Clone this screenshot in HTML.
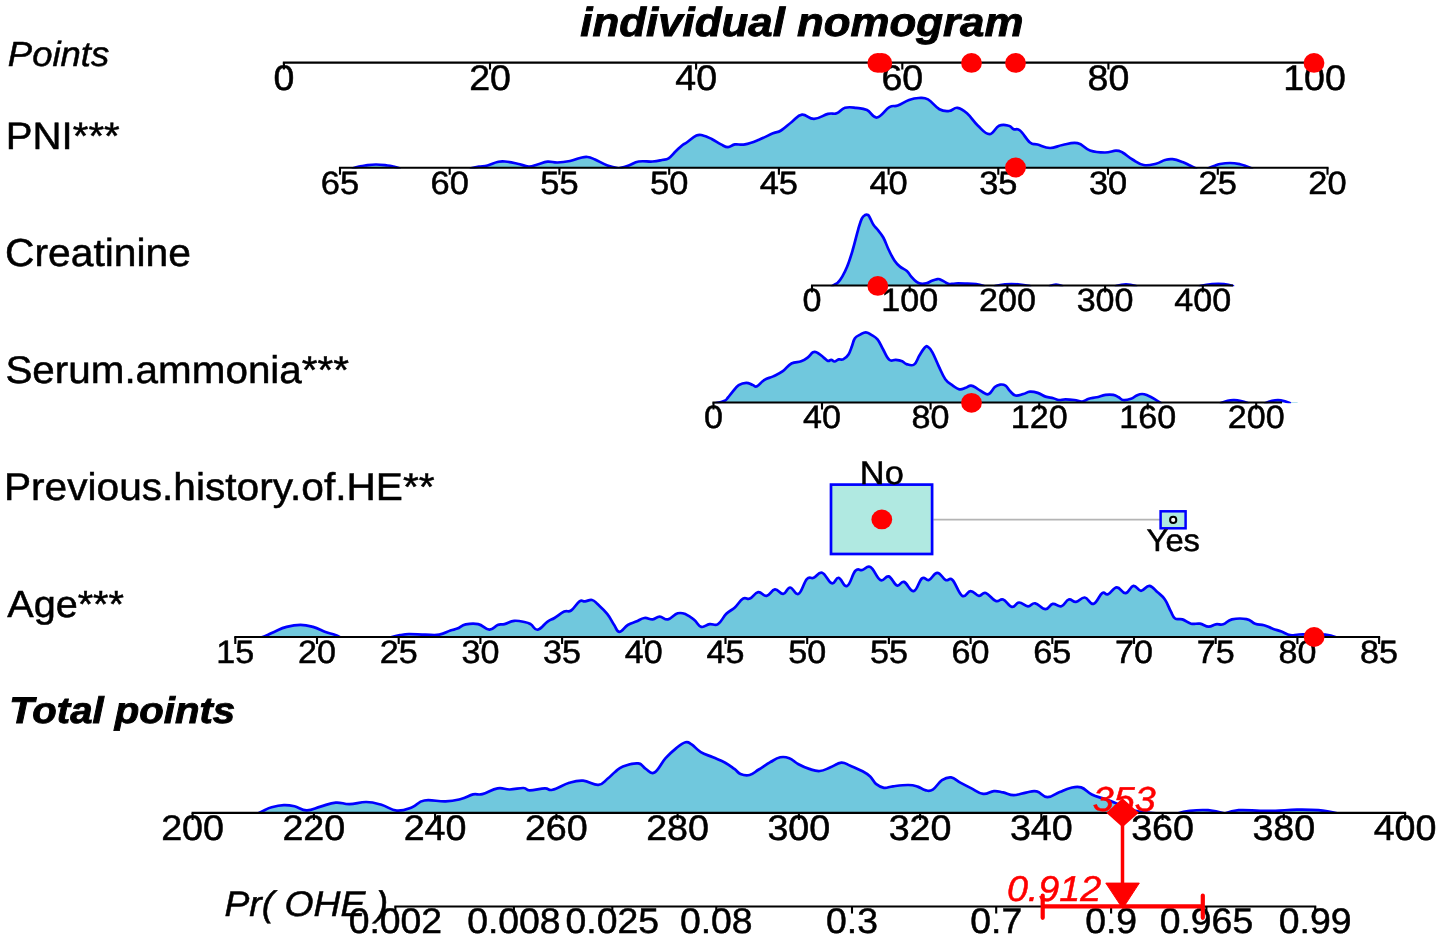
<!DOCTYPE html>
<html><head><meta charset="utf-8"><title>individual nomogram</title>
<style>
html,body{margin:0;padding:0;background:#fff;}
svg{display:block;font-family:"Liberation Sans",sans-serif;will-change:transform;}
text{white-space:pre;text-rendering:geometricPrecision;}
</style></head><body>
<svg width="1441" height="941" viewBox="0 0 1441 941">
<rect width="1441" height="941" fill="#fff"/>
<clipPath id="c1"><rect x="0" y="0" width="1441" height="168.6"/></clipPath>
<g clip-path="url(#c1)">
<path d="M353.0,168.4C353.0,168.4 356.5,167.2 359.0,166.6C361.5,166.0 361.5,165.9 365.0,165.5C368.5,165.1 371.4,164.5 376.0,164.5C380.6,164.5 383.9,165.1 387.5,165.5C391.1,165.9 391.0,166.0 393.5,166.6C396.0,167.2 399.5,168.4 399.5,168.4M471.0,168.4C471.0,168.4 475.6,167.3 479.0,166.7C482.4,166.1 483.7,166.5 487.5,165.5C491.3,164.5 493.9,162.8 497.5,162.0C501.1,161.2 500.9,161.1 505.0,161.5C509.1,161.9 512.6,162.7 517.5,163.7C522.4,164.7 524.6,166.3 528.7,166.5C532.8,166.7 533.6,165.5 537.5,164.5C541.4,163.5 543.4,162.1 547.5,161.7C551.6,161.3 552.9,162.6 557.5,162.5C562.1,162.4 565.4,161.9 570.0,161.0C574.6,160.1 576.4,158.8 580.0,158.0C583.6,157.2 584.4,156.7 587.5,157.0C590.6,157.3 590.9,157.7 595.0,159.5C599.1,161.3 602.6,163.7 607.5,165.5C612.4,167.3 618.7,168.4 618.7,168.4C618.7,168.4 624.6,166.9 628.7,165.5C632.8,164.1 633.8,162.3 638.7,161.5C643.6,160.7 647.7,161.8 652.5,161.5C657.3,161.2 658.7,160.7 662.0,160.0C665.3,159.3 665.7,160.2 668.6,158.3C671.5,156.4 673.2,153.6 676.0,151.0C678.8,148.4 679.8,147.3 682.0,145.5C684.2,143.7 683.7,144.6 686.7,142.5C689.7,140.4 693.0,136.9 696.4,135.5C699.8,134.1 699.8,134.8 703.0,135.5C706.2,136.2 708.0,137.2 711.7,139.0C715.4,140.8 717.6,142.7 721.0,144.4C724.4,146.1 725.1,147.2 728.0,147.2C730.9,147.2 731.5,145.0 735.0,144.4C738.5,143.8 740.0,145.4 745.0,144.4C750.0,143.4 753.2,142.0 759.0,139.7C764.8,137.4 768.5,135.2 773.0,133.3C777.5,131.4 777.1,132.9 781.0,130.5C784.9,128.1 787.7,125.0 792.0,121.7C796.3,118.4 797.5,115.3 802.0,114.7C806.5,114.1 808.6,119.1 814.0,118.9C819.4,118.7 823.3,115.1 828.0,113.9C832.7,112.7 833.2,114.6 836.7,113.3C840.2,112.0 841.0,108.9 845.0,107.8C849.0,106.7 851.5,107.3 856.0,107.8C860.5,108.3 862.7,108.0 867.0,110.0C871.3,112.0 872.4,118.1 877.0,117.5C881.6,116.9 885.1,109.7 889.4,107.2C893.7,104.7 893.7,107.0 897.8,105.5C901.9,104.0 904.7,101.5 909.0,100.0C913.3,98.5 914.7,98.1 918.6,98.0C922.5,97.9 923.7,97.1 928.0,99.4C932.3,101.7 935.1,106.8 939.4,109.2C943.7,111.6 945.3,111.3 949.0,111.0C952.7,110.7 953.8,107.3 957.5,107.8C961.2,108.3 962.8,109.6 967.0,113.3C971.2,117.0 973.4,121.5 978.0,125.8C982.6,130.1 985.1,134.2 989.4,134.2C993.7,134.2 995.0,127.6 999.0,125.8C1003.0,124.0 1005.7,125.0 1008.7,125.7C1011.7,126.4 1011.4,128.2 1013.7,129.2C1016.0,130.2 1016.6,127.8 1020.0,130.5C1023.4,133.2 1026.4,139.6 1030.0,142.5C1033.6,145.4 1033.4,143.4 1037.5,144.5C1041.6,145.6 1044.8,147.9 1050.0,148.0C1055.2,148.1 1056.8,146.0 1062.5,145.0C1068.2,144.0 1071.8,142.1 1077.5,143.2C1083.2,144.3 1084.3,148.6 1090.0,150.5C1095.7,152.4 1099.6,152.5 1105.0,152.5C1110.4,152.5 1112.4,150.7 1116.0,150.7C1119.6,150.7 1119.1,150.7 1122.5,152.5C1125.9,154.3 1128.1,156.9 1132.5,159.5C1136.9,162.1 1138.8,164.1 1143.7,165.0C1148.6,165.9 1151.6,164.7 1156.0,163.7C1160.4,162.7 1161.6,160.9 1165.0,160.0C1168.4,159.1 1168.9,158.8 1172.5,159.2C1176.1,159.6 1178.9,160.7 1182.5,162.0C1186.1,163.3 1187.2,164.2 1190.0,165.5C1192.8,166.8 1196.0,168.4 1196.0,168.4M1208.0,168.4C1208.0,168.4 1211.5,166.9 1214.0,166.0C1216.5,165.1 1216.7,164.6 1220.0,164.0C1223.3,163.4 1225.9,163.0 1230.0,163.0C1234.1,163.0 1236.5,163.5 1240.0,164.2C1243.5,164.9 1244.5,165.6 1247.0,166.5C1249.5,167.4 1252.0,168.4 1252.0,168.4L1252.0,167.8L353.0,167.8Z" fill="#70c8dd" stroke="none"/>
<path d="M353.0,168.4C353.0,168.4 356.5,167.2 359.0,166.6C361.5,166.0 361.5,165.9 365.0,165.5C368.5,165.1 371.4,164.5 376.0,164.5C380.6,164.5 383.9,165.1 387.5,165.5C391.1,165.9 391.0,166.0 393.5,166.6C396.0,167.2 399.5,168.4 399.5,168.4M471.0,168.4C471.0,168.4 475.6,167.3 479.0,166.7C482.4,166.1 483.7,166.5 487.5,165.5C491.3,164.5 493.9,162.8 497.5,162.0C501.1,161.2 500.9,161.1 505.0,161.5C509.1,161.9 512.6,162.7 517.5,163.7C522.4,164.7 524.6,166.3 528.7,166.5C532.8,166.7 533.6,165.5 537.5,164.5C541.4,163.5 543.4,162.1 547.5,161.7C551.6,161.3 552.9,162.6 557.5,162.5C562.1,162.4 565.4,161.9 570.0,161.0C574.6,160.1 576.4,158.8 580.0,158.0C583.6,157.2 584.4,156.7 587.5,157.0C590.6,157.3 590.9,157.7 595.0,159.5C599.1,161.3 602.6,163.7 607.5,165.5C612.4,167.3 618.7,168.4 618.7,168.4C618.7,168.4 624.6,166.9 628.7,165.5C632.8,164.1 633.8,162.3 638.7,161.5C643.6,160.7 647.7,161.8 652.5,161.5C657.3,161.2 658.7,160.7 662.0,160.0C665.3,159.3 665.7,160.2 668.6,158.3C671.5,156.4 673.2,153.6 676.0,151.0C678.8,148.4 679.8,147.3 682.0,145.5C684.2,143.7 683.7,144.6 686.7,142.5C689.7,140.4 693.0,136.9 696.4,135.5C699.8,134.1 699.8,134.8 703.0,135.5C706.2,136.2 708.0,137.2 711.7,139.0C715.4,140.8 717.6,142.7 721.0,144.4C724.4,146.1 725.1,147.2 728.0,147.2C730.9,147.2 731.5,145.0 735.0,144.4C738.5,143.8 740.0,145.4 745.0,144.4C750.0,143.4 753.2,142.0 759.0,139.7C764.8,137.4 768.5,135.2 773.0,133.3C777.5,131.4 777.1,132.9 781.0,130.5C784.9,128.1 787.7,125.0 792.0,121.7C796.3,118.4 797.5,115.3 802.0,114.7C806.5,114.1 808.6,119.1 814.0,118.9C819.4,118.7 823.3,115.1 828.0,113.9C832.7,112.7 833.2,114.6 836.7,113.3C840.2,112.0 841.0,108.9 845.0,107.8C849.0,106.7 851.5,107.3 856.0,107.8C860.5,108.3 862.7,108.0 867.0,110.0C871.3,112.0 872.4,118.1 877.0,117.5C881.6,116.9 885.1,109.7 889.4,107.2C893.7,104.7 893.7,107.0 897.8,105.5C901.9,104.0 904.7,101.5 909.0,100.0C913.3,98.5 914.7,98.1 918.6,98.0C922.5,97.9 923.7,97.1 928.0,99.4C932.3,101.7 935.1,106.8 939.4,109.2C943.7,111.6 945.3,111.3 949.0,111.0C952.7,110.7 953.8,107.3 957.5,107.8C961.2,108.3 962.8,109.6 967.0,113.3C971.2,117.0 973.4,121.5 978.0,125.8C982.6,130.1 985.1,134.2 989.4,134.2C993.7,134.2 995.0,127.6 999.0,125.8C1003.0,124.0 1005.7,125.0 1008.7,125.7C1011.7,126.4 1011.4,128.2 1013.7,129.2C1016.0,130.2 1016.6,127.8 1020.0,130.5C1023.4,133.2 1026.4,139.6 1030.0,142.5C1033.6,145.4 1033.4,143.4 1037.5,144.5C1041.6,145.6 1044.8,147.9 1050.0,148.0C1055.2,148.1 1056.8,146.0 1062.5,145.0C1068.2,144.0 1071.8,142.1 1077.5,143.2C1083.2,144.3 1084.3,148.6 1090.0,150.5C1095.7,152.4 1099.6,152.5 1105.0,152.5C1110.4,152.5 1112.4,150.7 1116.0,150.7C1119.6,150.7 1119.1,150.7 1122.5,152.5C1125.9,154.3 1128.1,156.9 1132.5,159.5C1136.9,162.1 1138.8,164.1 1143.7,165.0C1148.6,165.9 1151.6,164.7 1156.0,163.7C1160.4,162.7 1161.6,160.9 1165.0,160.0C1168.4,159.1 1168.9,158.8 1172.5,159.2C1176.1,159.6 1178.9,160.7 1182.5,162.0C1186.1,163.3 1187.2,164.2 1190.0,165.5C1192.8,166.8 1196.0,168.4 1196.0,168.4M1208.0,168.4C1208.0,168.4 1211.5,166.9 1214.0,166.0C1216.5,165.1 1216.7,164.6 1220.0,164.0C1223.3,163.4 1225.9,163.0 1230.0,163.0C1234.1,163.0 1236.5,163.5 1240.0,164.2C1243.5,164.9 1244.5,165.6 1247.0,166.5C1249.5,167.4 1252.0,168.4 1252.0,168.4" fill="none" stroke="#0000ff" stroke-width="2.7" stroke-linejoin="round" stroke-linecap="round"/>
</g>
<clipPath id="c2"><rect x="0" y="0" width="1441" height="286.3"/></clipPath>
<g clip-path="url(#c2)">
<path d="M832.0,286.1C832.0,286.1 834.1,284.9 835.3,284.2C836.5,283.5 836.5,283.9 837.8,282.6C839.1,281.3 839.7,281.0 841.6,277.7C843.5,274.4 844.9,272.3 847.2,266.6C849.5,260.9 850.4,257.8 852.7,250.0C855.0,242.2 856.4,235.6 858.3,229.1C860.2,222.6 860.4,221.6 861.8,218.7C863.2,215.8 863.9,215.8 865.2,215.0C866.5,214.2 867.0,214.4 868.0,215.0C869.0,215.6 868.8,215.9 870.0,218.0C871.2,220.1 872.0,222.6 873.6,225.0C875.2,227.4 875.7,227.2 877.7,229.8C879.7,232.4 881.0,233.3 883.3,237.5C885.6,241.7 886.5,245.3 888.8,250.0C891.1,254.7 892.1,257.0 894.4,260.4C896.7,263.8 897.4,264.4 900.0,266.6C902.6,268.8 904.6,269.0 906.9,271.0C909.2,273.0 909.0,274.0 911.0,276.3C913.0,278.6 914.6,280.4 916.6,281.9C918.6,283.4 918.7,283.4 920.7,283.7C922.7,284.0 924.0,283.9 926.3,283.3C928.6,282.7 929.6,281.7 931.9,280.8C934.2,279.9 935.7,279.4 937.4,279.1C939.1,278.8 938.8,278.9 940.2,279.4C941.6,279.9 942.4,280.6 944.3,281.6C946.2,282.6 946.9,283.6 949.2,284.0C951.5,284.4 951.8,283.6 955.4,283.5C959.0,283.4 962.2,283.5 966.5,283.6C970.8,283.7 972.4,283.7 976.0,284.2C979.6,284.7 984.0,286.1 984.0,286.1M995.0,286.1C995.0,286.1 1000.2,284.7 1005.0,284.3C1009.8,283.9 1012.8,283.9 1018.0,284.3C1023.2,284.7 1030.0,286.1 1030.0,286.1M1050.0,286.1C1050.0,286.1 1053.5,284.5 1056.0,284.5C1058.5,284.5 1062.0,286.1 1062.0,286.1M1116.0,286.1C1116.0,286.1 1121.9,284.4 1126.0,284.4C1130.1,284.4 1136.0,286.1 1136.0,286.1M1200.0,286.1C1200.0,286.1 1207.0,284.6 1212.0,284.2C1217.0,283.8 1219.7,283.8 1224.0,284.2C1228.3,284.6 1233.0,286.1 1233.0,286.1L1233.0,285.5L832.0,285.5Z" fill="#70c8dd" stroke="none"/>
<path d="M832.0,286.1C832.0,286.1 834.1,284.9 835.3,284.2C836.5,283.5 836.5,283.9 837.8,282.6C839.1,281.3 839.7,281.0 841.6,277.7C843.5,274.4 844.9,272.3 847.2,266.6C849.5,260.9 850.4,257.8 852.7,250.0C855.0,242.2 856.4,235.6 858.3,229.1C860.2,222.6 860.4,221.6 861.8,218.7C863.2,215.8 863.9,215.8 865.2,215.0C866.5,214.2 867.0,214.4 868.0,215.0C869.0,215.6 868.8,215.9 870.0,218.0C871.2,220.1 872.0,222.6 873.6,225.0C875.2,227.4 875.7,227.2 877.7,229.8C879.7,232.4 881.0,233.3 883.3,237.5C885.6,241.7 886.5,245.3 888.8,250.0C891.1,254.7 892.1,257.0 894.4,260.4C896.7,263.8 897.4,264.4 900.0,266.6C902.6,268.8 904.6,269.0 906.9,271.0C909.2,273.0 909.0,274.0 911.0,276.3C913.0,278.6 914.6,280.4 916.6,281.9C918.6,283.4 918.7,283.4 920.7,283.7C922.7,284.0 924.0,283.9 926.3,283.3C928.6,282.7 929.6,281.7 931.9,280.8C934.2,279.9 935.7,279.4 937.4,279.1C939.1,278.8 938.8,278.9 940.2,279.4C941.6,279.9 942.4,280.6 944.3,281.6C946.2,282.6 946.9,283.6 949.2,284.0C951.5,284.4 951.8,283.6 955.4,283.5C959.0,283.4 962.2,283.5 966.5,283.6C970.8,283.7 972.4,283.7 976.0,284.2C979.6,284.7 984.0,286.1 984.0,286.1M995.0,286.1C995.0,286.1 1000.2,284.7 1005.0,284.3C1009.8,283.9 1012.8,283.9 1018.0,284.3C1023.2,284.7 1030.0,286.1 1030.0,286.1M1050.0,286.1C1050.0,286.1 1053.5,284.5 1056.0,284.5C1058.5,284.5 1062.0,286.1 1062.0,286.1M1116.0,286.1C1116.0,286.1 1121.9,284.4 1126.0,284.4C1130.1,284.4 1136.0,286.1 1136.0,286.1M1200.0,286.1C1200.0,286.1 1207.0,284.6 1212.0,284.2C1217.0,283.8 1219.7,283.8 1224.0,284.2C1228.3,284.6 1233.0,286.1 1233.0,286.1" fill="none" stroke="#0000ff" stroke-width="2.7" stroke-linejoin="round" stroke-linecap="round"/>
</g>
<clipPath id="c3"><rect x="0" y="0" width="1441" height="403.3"/></clipPath>
<g clip-path="url(#c3)">
<path d="M708.0,403.1M716.0,403.1C716.0,403.1 722.2,401.9 724.7,400.7C727.2,399.5 726.4,399.3 728.0,397.5C729.6,395.7 730.1,394.6 732.3,392.1C734.5,389.6 735.8,387.1 738.7,385.2C741.6,383.3 743.4,382.8 746.3,382.8C749.2,382.8 750.5,384.3 752.7,385.0C754.9,385.7 754.6,387.4 757.0,386.3C759.4,385.2 761.2,381.8 764.5,379.8C767.8,377.8 769.4,378.2 773.2,376.4C777.0,374.6 779.0,373.9 782.8,371.2C786.6,368.5 787.6,365.5 791.4,363.5C795.2,361.5 797.8,362.5 801.1,361.3C804.4,360.1 805.1,359.5 807.6,357.6C810.1,355.7 811.0,353.3 813.0,352.3C815.0,351.3 815.1,351.6 817.3,352.7C819.5,353.8 821.5,355.9 823.7,357.6C825.9,359.3 826.5,360.4 828.0,360.9C829.5,361.4 829.9,359.7 831.2,359.8C832.5,359.9 832.9,361.6 834.5,361.5C836.1,361.4 837.0,359.8 838.8,359.4C840.6,359.0 841.1,360.4 843.1,359.4C845.1,358.4 846.7,357.2 848.5,354.4C850.3,351.6 850.7,349.3 852.0,346.0C853.3,342.7 853.2,340.7 854.9,338.3C856.6,335.9 858.1,335.8 860.3,334.6C862.5,333.4 863.5,332.3 865.7,332.3C867.9,332.3 868.6,333.1 871.0,334.6C873.4,336.1 875.0,336.4 877.5,339.4C880.0,342.4 880.5,344.8 882.9,349.0C885.3,353.2 886.6,357.6 889.3,359.8C892.0,362.0 893.1,359.5 895.8,359.8C898.5,360.1 900.0,360.4 902.2,361.3C904.4,362.2 904.0,363.4 906.5,364.1C909.0,364.8 911.4,366.3 914.1,364.5C916.8,362.7 917.2,359.0 919.4,355.5C921.6,352.0 923.0,349.3 924.8,347.5C926.6,345.7 926.4,345.9 928.0,346.9C929.6,347.9 930.2,348.3 932.4,352.3C934.6,356.3 936.1,360.7 938.8,366.3C941.5,371.9 942.4,375.2 945.3,379.2C948.2,383.2 949.9,383.5 952.8,385.6C955.7,387.7 956.6,388.8 959.3,389.3C962.0,389.8 963.3,388.6 965.7,387.8C968.1,387.0 968.7,385.4 971.1,385.6C973.5,385.8 974.6,387.1 977.5,388.8C980.4,390.5 982.6,392.6 985.1,393.6C987.6,394.6 987.4,394.9 989.4,393.6C991.4,392.3 992.6,389.0 994.8,387.1C997.0,385.2 997.9,384.9 1000.1,384.6C1002.3,384.3 1003.5,384.3 1005.5,385.6C1007.5,386.9 1007.9,389.1 1010.0,391.1C1012.1,393.1 1012.8,394.9 1015.5,395.5C1018.2,396.1 1020.3,394.8 1023.3,394.0C1026.3,393.2 1027.0,391.9 1030.0,391.7C1033.0,391.5 1034.5,391.9 1037.7,392.9C1040.9,393.9 1042.3,395.5 1045.5,396.6C1048.7,397.7 1050.6,397.5 1053.3,398.2C1056.0,398.9 1056.3,399.8 1058.8,400.0C1061.3,400.2 1062.3,399.3 1065.5,399.3C1068.7,399.3 1070.9,399.5 1074.4,400.0C1077.9,400.5 1079.2,401.7 1082.2,401.5C1085.2,401.3 1085.8,399.7 1088.8,398.8C1091.8,397.9 1093.1,398.1 1096.6,397.3C1100.1,396.5 1102.0,395.4 1105.5,394.9C1109.0,394.4 1110.6,394.4 1113.3,394.9C1116.0,395.4 1116.8,396.2 1118.8,397.3C1120.8,398.4 1120.7,399.7 1123.2,400.0C1125.7,400.3 1128.2,399.7 1131.0,398.8C1133.8,397.9 1134.3,396.5 1136.6,395.5C1138.9,394.5 1139.8,394.0 1142.1,394.0C1144.4,394.0 1145.2,394.5 1147.7,395.5C1150.2,396.5 1151.6,397.2 1154.3,398.8C1157.0,400.4 1161.0,403.1 1161.0,403.1M1221.0,403.1C1221.0,403.1 1224.9,401.4 1227.6,400.8C1230.3,400.2 1231.6,400.1 1234.3,400.2C1237.0,400.3 1238.2,400.5 1240.9,401.1C1243.6,401.7 1247.6,403.1 1247.6,403.1M1265.4,403.1C1265.4,403.1 1268.8,401.4 1272.0,400.8C1275.2,400.2 1277.2,399.9 1280.9,400.4C1284.6,400.9 1289.8,403.1 1289.8,403.1M1297.6,403.1L1297.6,402.5L708.0,402.5Z" fill="#70c8dd" stroke="none"/>
<path d="M708.0,403.1M716.0,403.1C716.0,403.1 722.2,401.9 724.7,400.7C727.2,399.5 726.4,399.3 728.0,397.5C729.6,395.7 730.1,394.6 732.3,392.1C734.5,389.6 735.8,387.1 738.7,385.2C741.6,383.3 743.4,382.8 746.3,382.8C749.2,382.8 750.5,384.3 752.7,385.0C754.9,385.7 754.6,387.4 757.0,386.3C759.4,385.2 761.2,381.8 764.5,379.8C767.8,377.8 769.4,378.2 773.2,376.4C777.0,374.6 779.0,373.9 782.8,371.2C786.6,368.5 787.6,365.5 791.4,363.5C795.2,361.5 797.8,362.5 801.1,361.3C804.4,360.1 805.1,359.5 807.6,357.6C810.1,355.7 811.0,353.3 813.0,352.3C815.0,351.3 815.1,351.6 817.3,352.7C819.5,353.8 821.5,355.9 823.7,357.6C825.9,359.3 826.5,360.4 828.0,360.9C829.5,361.4 829.9,359.7 831.2,359.8C832.5,359.9 832.9,361.6 834.5,361.5C836.1,361.4 837.0,359.8 838.8,359.4C840.6,359.0 841.1,360.4 843.1,359.4C845.1,358.4 846.7,357.2 848.5,354.4C850.3,351.6 850.7,349.3 852.0,346.0C853.3,342.7 853.2,340.7 854.9,338.3C856.6,335.9 858.1,335.8 860.3,334.6C862.5,333.4 863.5,332.3 865.7,332.3C867.9,332.3 868.6,333.1 871.0,334.6C873.4,336.1 875.0,336.4 877.5,339.4C880.0,342.4 880.5,344.8 882.9,349.0C885.3,353.2 886.6,357.6 889.3,359.8C892.0,362.0 893.1,359.5 895.8,359.8C898.5,360.1 900.0,360.4 902.2,361.3C904.4,362.2 904.0,363.4 906.5,364.1C909.0,364.8 911.4,366.3 914.1,364.5C916.8,362.7 917.2,359.0 919.4,355.5C921.6,352.0 923.0,349.3 924.8,347.5C926.6,345.7 926.4,345.9 928.0,346.9C929.6,347.9 930.2,348.3 932.4,352.3C934.6,356.3 936.1,360.7 938.8,366.3C941.5,371.9 942.4,375.2 945.3,379.2C948.2,383.2 949.9,383.5 952.8,385.6C955.7,387.7 956.6,388.8 959.3,389.3C962.0,389.8 963.3,388.6 965.7,387.8C968.1,387.0 968.7,385.4 971.1,385.6C973.5,385.8 974.6,387.1 977.5,388.8C980.4,390.5 982.6,392.6 985.1,393.6C987.6,394.6 987.4,394.9 989.4,393.6C991.4,392.3 992.6,389.0 994.8,387.1C997.0,385.2 997.9,384.9 1000.1,384.6C1002.3,384.3 1003.5,384.3 1005.5,385.6C1007.5,386.9 1007.9,389.1 1010.0,391.1C1012.1,393.1 1012.8,394.9 1015.5,395.5C1018.2,396.1 1020.3,394.8 1023.3,394.0C1026.3,393.2 1027.0,391.9 1030.0,391.7C1033.0,391.5 1034.5,391.9 1037.7,392.9C1040.9,393.9 1042.3,395.5 1045.5,396.6C1048.7,397.7 1050.6,397.5 1053.3,398.2C1056.0,398.9 1056.3,399.8 1058.8,400.0C1061.3,400.2 1062.3,399.3 1065.5,399.3C1068.7,399.3 1070.9,399.5 1074.4,400.0C1077.9,400.5 1079.2,401.7 1082.2,401.5C1085.2,401.3 1085.8,399.7 1088.8,398.8C1091.8,397.9 1093.1,398.1 1096.6,397.3C1100.1,396.5 1102.0,395.4 1105.5,394.9C1109.0,394.4 1110.6,394.4 1113.3,394.9C1116.0,395.4 1116.8,396.2 1118.8,397.3C1120.8,398.4 1120.7,399.7 1123.2,400.0C1125.7,400.3 1128.2,399.7 1131.0,398.8C1133.8,397.9 1134.3,396.5 1136.6,395.5C1138.9,394.5 1139.8,394.0 1142.1,394.0C1144.4,394.0 1145.2,394.5 1147.7,395.5C1150.2,396.5 1151.6,397.2 1154.3,398.8C1157.0,400.4 1161.0,403.1 1161.0,403.1M1221.0,403.1C1221.0,403.1 1224.9,401.4 1227.6,400.8C1230.3,400.2 1231.6,400.1 1234.3,400.2C1237.0,400.3 1238.2,400.5 1240.9,401.1C1243.6,401.7 1247.6,403.1 1247.6,403.1M1265.4,403.1C1265.4,403.1 1268.8,401.4 1272.0,400.8C1275.2,400.2 1277.2,399.9 1280.9,400.4C1284.6,400.9 1289.8,403.1 1289.8,403.1M1297.6,403.1" fill="none" stroke="#0000ff" stroke-width="2.7" stroke-linejoin="round" stroke-linecap="round"/>
</g>
<clipPath id="c4"><rect x="0" y="0" width="1441" height="637.8"/></clipPath>
<g clip-path="url(#c4)">
<path d="M261.0,637.6C261.0,637.6 264.3,636.4 267.0,635.2C269.7,634.0 270.0,633.6 274.1,631.9C278.2,630.2 281.1,628.3 286.6,626.9C292.1,625.5 295.0,624.9 300.5,624.9C306.0,624.9 307.8,625.5 313.0,626.9C318.2,628.3 321.2,630.3 325.5,631.9C329.8,633.5 330.8,633.4 334.0,634.6C337.2,635.8 341.0,637.6 341.0,637.6M390.0,637.6C390.0,637.6 396.1,635.9 400.0,635.2C403.9,634.5 403.6,634.2 408.8,634.1C414.0,634.0 419.1,634.6 425.4,634.7C431.7,634.8 434.1,635.6 439.3,634.7C444.5,633.8 446.7,631.8 450.4,630.5C454.1,629.2 454.1,629.9 457.3,628.6C460.5,627.3 461.4,625.3 465.7,624.4C470.0,623.5 473.3,623.0 478.2,624.1C483.1,625.2 485.3,629.5 489.3,629.7C493.3,629.9 494.5,626.2 497.6,625.0C500.7,623.8 501.1,625.0 504.5,624.1C507.9,623.2 509.9,621.2 514.2,620.8C518.5,620.4 521.8,621.5 525.3,622.2C528.8,622.9 528.3,622.9 530.9,624.4C533.5,625.9 534.3,630.3 537.8,629.7C541.3,629.1 544.1,624.0 547.6,621.6C551.1,619.2 551.1,620.1 554.5,618.0C557.9,615.9 560.8,613.1 564.2,611.6C567.6,610.1 567.9,612.6 571.1,610.5C574.3,608.4 576.6,603.3 579.5,601.4C582.4,599.5 582.4,601.7 585.0,601.4C587.6,601.1 589.4,599.4 592.0,600.0C594.6,600.6 594.4,601.2 597.5,604.1C600.6,607.0 603.7,609.5 607.2,613.8C610.7,618.1 611.7,621.3 614.2,625.0C616.7,628.7 616.6,631.9 619.4,631.9C622.2,631.9 624.3,627.1 627.8,625.0C631.3,622.9 632.7,623.0 636.1,621.6C639.5,620.2 641.0,618.5 644.4,618.0C647.8,617.5 649.5,619.7 652.7,619.4C655.9,619.1 656.5,616.6 659.7,616.6C662.9,616.6 664.3,620.1 668.0,619.4C671.7,618.7 674.0,614.3 677.7,613.3C681.4,612.3 682.6,613.0 686.1,614.4C689.6,615.8 691.3,617.4 694.4,620.0C697.5,622.6 698.2,626.1 701.3,626.9C704.4,627.7 706.1,624.7 709.6,624.1C713.1,623.5 714.5,626.2 718.0,624.1C721.5,622.0 722.9,617.2 726.3,613.8C729.7,610.4 731.1,610.8 734.6,607.7C738.1,604.6 739.8,600.5 743.0,598.6C746.2,596.7 746.8,599.9 749.9,598.6C753.0,597.3 754.7,592.8 758.2,592.2C761.7,591.6 763.1,596.4 766.6,595.8C770.1,595.2 771.5,589.8 774.9,589.4C778.3,589.0 780.1,594.3 783.2,593.9C786.3,593.5 786.9,587.5 790.1,587.5C793.3,587.5 795.0,595.6 798.5,593.9C802.0,592.2 803.7,582.4 806.8,579.1C809.9,575.8 810.5,579.1 813.7,577.8C816.9,576.5 818.4,571.7 822.1,572.8C825.8,573.9 828.4,582.3 831.8,583.3C835.2,584.3 835.6,577.2 838.7,577.8C841.8,578.4 843.5,587.5 847.0,586.1C850.5,584.7 852.2,574.1 855.4,570.8C858.6,567.5 859.2,570.7 862.3,570.0C865.4,569.3 866.9,565.1 870.6,567.2C874.3,569.3 876.7,578.1 880.4,580.0C884.1,581.9 885.3,575.3 888.7,576.4C892.1,577.5 893.8,584.4 897.0,585.5C900.2,586.6 900.5,580.7 904.0,581.9C907.5,583.1 910.0,591.8 913.7,591.1C917.4,590.4 918.9,580.6 922.0,578.3C925.1,576.0 925.7,581.1 928.9,580.0C932.1,578.9 933.8,572.8 937.3,572.8C940.8,572.8 942.5,578.5 945.6,580.0C948.7,581.5 949.1,576.7 952.5,580.0C955.9,583.3 958.5,593.5 962.2,595.8C965.9,598.1 967.1,591.1 970.6,591.1C974.1,591.1 975.8,595.4 978.9,595.8C982.0,596.2 982.3,591.9 985.8,593.0C989.3,594.1 992.2,599.7 995.8,601.0C999.4,602.3 999.8,598.3 1003.1,599.5C1006.4,600.7 1008.6,606.2 1011.9,606.8C1015.2,607.4 1015.8,602.6 1019.1,602.5C1022.4,602.4 1024.6,606.1 1027.9,606.3C1031.2,606.5 1031.6,602.7 1035.2,603.3C1038.8,603.9 1041.8,609.1 1045.4,609.2C1049.0,609.3 1049.4,604.5 1052.7,603.9C1056.0,603.3 1058.1,607.2 1061.4,606.3C1064.7,605.4 1065.7,600.4 1068.7,599.5C1071.7,598.6 1072.7,602.3 1076.0,601.9C1079.3,601.5 1081.1,597.1 1084.7,597.5C1088.3,597.9 1089.9,604.8 1093.5,603.9C1097.1,603.0 1099.2,595.1 1102.2,593.1C1105.2,591.1 1105.0,595.5 1108.0,594.3C1111.0,593.1 1113.2,587.5 1116.8,587.3C1120.4,587.1 1122.1,593.4 1125.5,593.1C1128.9,592.8 1130.2,586.3 1133.4,585.8C1136.6,585.3 1137.7,590.8 1141.0,590.8C1144.3,590.8 1146.0,585.5 1149.4,585.8C1152.8,586.1 1154.4,589.5 1157.6,592.3C1160.8,595.1 1162.2,595.6 1164.9,599.5C1167.6,603.4 1168.6,607.3 1170.7,611.2C1172.8,615.1 1172.7,616.8 1175.1,618.5C1177.5,620.2 1179.1,618.3 1182.4,619.4C1185.7,620.5 1187.5,622.8 1191.1,623.7C1194.7,624.6 1196.3,623.1 1199.9,623.7C1203.5,624.3 1205.3,626.6 1208.6,626.7C1211.9,626.8 1212.9,624.8 1215.9,624.3C1218.9,623.8 1219.9,625.3 1223.2,624.3C1226.5,623.3 1227.1,620.5 1231.9,619.4C1236.7,618.3 1241.7,618.2 1246.5,619.1C1251.3,620.0 1251.6,622.4 1255.2,623.7C1258.8,625.0 1260.4,624.2 1264.0,625.2C1267.6,626.2 1269.1,627.4 1272.7,628.7C1276.3,630.0 1277.9,630.3 1281.5,631.6C1285.1,632.9 1286.6,634.5 1290.2,635.1C1293.8,635.7 1294.7,634.6 1298.9,634.5C1303.1,634.4 1305.2,634.5 1310.6,634.5C1316.0,634.5 1319.8,634.1 1325.2,634.7C1330.6,635.3 1336.8,637.6 1336.8,637.6L1336.8,637.0L261.0,637.0Z" fill="#70c8dd" stroke="none"/>
<path d="M261.0,637.6C261.0,637.6 264.3,636.4 267.0,635.2C269.7,634.0 270.0,633.6 274.1,631.9C278.2,630.2 281.1,628.3 286.6,626.9C292.1,625.5 295.0,624.9 300.5,624.9C306.0,624.9 307.8,625.5 313.0,626.9C318.2,628.3 321.2,630.3 325.5,631.9C329.8,633.5 330.8,633.4 334.0,634.6C337.2,635.8 341.0,637.6 341.0,637.6M390.0,637.6C390.0,637.6 396.1,635.9 400.0,635.2C403.9,634.5 403.6,634.2 408.8,634.1C414.0,634.0 419.1,634.6 425.4,634.7C431.7,634.8 434.1,635.6 439.3,634.7C444.5,633.8 446.7,631.8 450.4,630.5C454.1,629.2 454.1,629.9 457.3,628.6C460.5,627.3 461.4,625.3 465.7,624.4C470.0,623.5 473.3,623.0 478.2,624.1C483.1,625.2 485.3,629.5 489.3,629.7C493.3,629.9 494.5,626.2 497.6,625.0C500.7,623.8 501.1,625.0 504.5,624.1C507.9,623.2 509.9,621.2 514.2,620.8C518.5,620.4 521.8,621.5 525.3,622.2C528.8,622.9 528.3,622.9 530.9,624.4C533.5,625.9 534.3,630.3 537.8,629.7C541.3,629.1 544.1,624.0 547.6,621.6C551.1,619.2 551.1,620.1 554.5,618.0C557.9,615.9 560.8,613.1 564.2,611.6C567.6,610.1 567.9,612.6 571.1,610.5C574.3,608.4 576.6,603.3 579.5,601.4C582.4,599.5 582.4,601.7 585.0,601.4C587.6,601.1 589.4,599.4 592.0,600.0C594.6,600.6 594.4,601.2 597.5,604.1C600.6,607.0 603.7,609.5 607.2,613.8C610.7,618.1 611.7,621.3 614.2,625.0C616.7,628.7 616.6,631.9 619.4,631.9C622.2,631.9 624.3,627.1 627.8,625.0C631.3,622.9 632.7,623.0 636.1,621.6C639.5,620.2 641.0,618.5 644.4,618.0C647.8,617.5 649.5,619.7 652.7,619.4C655.9,619.1 656.5,616.6 659.7,616.6C662.9,616.6 664.3,620.1 668.0,619.4C671.7,618.7 674.0,614.3 677.7,613.3C681.4,612.3 682.6,613.0 686.1,614.4C689.6,615.8 691.3,617.4 694.4,620.0C697.5,622.6 698.2,626.1 701.3,626.9C704.4,627.7 706.1,624.7 709.6,624.1C713.1,623.5 714.5,626.2 718.0,624.1C721.5,622.0 722.9,617.2 726.3,613.8C729.7,610.4 731.1,610.8 734.6,607.7C738.1,604.6 739.8,600.5 743.0,598.6C746.2,596.7 746.8,599.9 749.9,598.6C753.0,597.3 754.7,592.8 758.2,592.2C761.7,591.6 763.1,596.4 766.6,595.8C770.1,595.2 771.5,589.8 774.9,589.4C778.3,589.0 780.1,594.3 783.2,593.9C786.3,593.5 786.9,587.5 790.1,587.5C793.3,587.5 795.0,595.6 798.5,593.9C802.0,592.2 803.7,582.4 806.8,579.1C809.9,575.8 810.5,579.1 813.7,577.8C816.9,576.5 818.4,571.7 822.1,572.8C825.8,573.9 828.4,582.3 831.8,583.3C835.2,584.3 835.6,577.2 838.7,577.8C841.8,578.4 843.5,587.5 847.0,586.1C850.5,584.7 852.2,574.1 855.4,570.8C858.6,567.5 859.2,570.7 862.3,570.0C865.4,569.3 866.9,565.1 870.6,567.2C874.3,569.3 876.7,578.1 880.4,580.0C884.1,581.9 885.3,575.3 888.7,576.4C892.1,577.5 893.8,584.4 897.0,585.5C900.2,586.6 900.5,580.7 904.0,581.9C907.5,583.1 910.0,591.8 913.7,591.1C917.4,590.4 918.9,580.6 922.0,578.3C925.1,576.0 925.7,581.1 928.9,580.0C932.1,578.9 933.8,572.8 937.3,572.8C940.8,572.8 942.5,578.5 945.6,580.0C948.7,581.5 949.1,576.7 952.5,580.0C955.9,583.3 958.5,593.5 962.2,595.8C965.9,598.1 967.1,591.1 970.6,591.1C974.1,591.1 975.8,595.4 978.9,595.8C982.0,596.2 982.3,591.9 985.8,593.0C989.3,594.1 992.2,599.7 995.8,601.0C999.4,602.3 999.8,598.3 1003.1,599.5C1006.4,600.7 1008.6,606.2 1011.9,606.8C1015.2,607.4 1015.8,602.6 1019.1,602.5C1022.4,602.4 1024.6,606.1 1027.9,606.3C1031.2,606.5 1031.6,602.7 1035.2,603.3C1038.8,603.9 1041.8,609.1 1045.4,609.2C1049.0,609.3 1049.4,604.5 1052.7,603.9C1056.0,603.3 1058.1,607.2 1061.4,606.3C1064.7,605.4 1065.7,600.4 1068.7,599.5C1071.7,598.6 1072.7,602.3 1076.0,601.9C1079.3,601.5 1081.1,597.1 1084.7,597.5C1088.3,597.9 1089.9,604.8 1093.5,603.9C1097.1,603.0 1099.2,595.1 1102.2,593.1C1105.2,591.1 1105.0,595.5 1108.0,594.3C1111.0,593.1 1113.2,587.5 1116.8,587.3C1120.4,587.1 1122.1,593.4 1125.5,593.1C1128.9,592.8 1130.2,586.3 1133.4,585.8C1136.6,585.3 1137.7,590.8 1141.0,590.8C1144.3,590.8 1146.0,585.5 1149.4,585.8C1152.8,586.1 1154.4,589.5 1157.6,592.3C1160.8,595.1 1162.2,595.6 1164.9,599.5C1167.6,603.4 1168.6,607.3 1170.7,611.2C1172.8,615.1 1172.7,616.8 1175.1,618.5C1177.5,620.2 1179.1,618.3 1182.4,619.4C1185.7,620.5 1187.5,622.8 1191.1,623.7C1194.7,624.6 1196.3,623.1 1199.9,623.7C1203.5,624.3 1205.3,626.6 1208.6,626.7C1211.9,626.8 1212.9,624.8 1215.9,624.3C1218.9,623.8 1219.9,625.3 1223.2,624.3C1226.5,623.3 1227.1,620.5 1231.9,619.4C1236.7,618.3 1241.7,618.2 1246.5,619.1C1251.3,620.0 1251.6,622.4 1255.2,623.7C1258.8,625.0 1260.4,624.2 1264.0,625.2C1267.6,626.2 1269.1,627.4 1272.7,628.7C1276.3,630.0 1277.9,630.3 1281.5,631.6C1285.1,632.9 1286.6,634.5 1290.2,635.1C1293.8,635.7 1294.7,634.6 1298.9,634.5C1303.1,634.4 1305.2,634.5 1310.6,634.5C1316.0,634.5 1319.8,634.1 1325.2,634.7C1330.6,635.3 1336.8,637.6 1336.8,637.6" fill="none" stroke="#0000ff" stroke-width="2.7" stroke-linejoin="round" stroke-linecap="round"/>
</g>
<clipPath id="c5"><rect x="0" y="0" width="1441" height="813.7"/></clipPath>
<g clip-path="url(#c5)">
<path d="M258.0,813.5C258.0,813.5 261.2,811.8 264.0,810.5C266.8,809.2 267.5,808.3 271.6,807.2C275.7,806.1 279.1,805.3 283.8,805.1C288.5,804.9 289.8,805.2 294.5,806.3C299.2,807.4 301.3,810.2 306.7,810.3C312.1,810.4 314.5,808.2 320.5,806.6C326.5,805.0 329.7,803.1 335.7,802.6C341.7,802.1 343.2,804.3 349.5,804.2C355.8,804.1 359.7,801.9 366.3,802.0C372.9,802.1 375.2,803.0 381.5,804.8C387.8,806.6 390.5,810.1 396.8,810.6C403.1,811.1 406.4,809.3 412.1,807.2C417.8,805.1 417.4,801.7 424.3,800.5C431.2,799.3 438.0,801.7 445.6,801.4C453.2,801.1 455.2,800.4 460.9,799.0C466.6,797.6 468.7,795.4 473.1,794.4C477.5,793.4 477.2,795.4 482.3,794.1C487.4,792.8 491.9,789.3 497.6,788.3C503.3,787.3 504.4,789.6 509.8,789.5C515.2,789.4 519.4,787.8 523.5,788.0C527.6,788.2 525.2,790.3 529.6,790.4C534.0,790.5 540.2,788.4 544.9,788.3C549.6,788.2 547.5,790.9 552.5,789.8C557.5,788.7 563.0,784.7 569.3,782.8C575.6,780.9 577.1,780.3 583.1,780.7C589.1,781.1 593.3,785.3 598.3,784.9C603.3,784.5 604.0,781.5 607.5,778.8C611.0,776.1 611.8,774.6 615.0,772.0C618.2,769.4 618.1,768.2 622.9,766.4C627.7,764.6 633.5,762.9 638.2,763.4C642.9,763.9 642.5,767.0 645.8,768.9C649.1,770.8 650.3,774.7 654.4,772.5C658.5,770.3 661.1,763.2 665.6,758.2C670.1,753.2 672.2,751.4 676.3,748.1C680.4,744.8 682.3,743.1 685.5,742.3C688.7,741.5 688.4,742.4 691.6,744.4C694.8,746.4 696.4,749.4 700.8,752.1C705.2,754.8 708.0,755.1 713.0,757.3C718.0,759.5 720.8,760.3 725.2,762.7C729.6,765.1 731.2,766.6 734.4,768.9C737.6,771.2 737.4,772.7 740.5,774.0C743.6,775.3 745.8,775.9 749.6,775.0C753.4,774.1 754.7,772.0 758.8,769.5C762.9,767.0 765.1,765.2 769.5,762.7C773.9,760.2 776.1,758.2 780.2,757.3C784.3,756.4 785.5,756.8 789.3,758.2C793.1,759.6 794.4,762.1 798.5,764.3C802.6,766.5 804.8,767.5 809.2,768.9C813.6,770.3 815.4,771.3 819.8,771.0C824.2,770.7 826.1,769.0 830.5,767.3C834.9,765.6 837.1,763.0 841.2,762.7C845.3,762.4 846.0,764.0 850.4,765.8C854.8,767.6 858.5,769.1 862.6,771.3C866.7,773.5 867.4,773.9 870.2,776.5C873.0,779.1 873.4,781.8 876.3,784.1C879.2,786.4 880.5,787.3 884.0,787.8C887.5,788.3 888.1,786.9 893.1,786.3C898.1,785.7 903.3,784.9 908.4,785.0C913.5,785.1 914.1,785.5 917.6,786.6C921.1,787.7 922.1,789.6 925.2,790.2C928.3,790.8 929.3,791.7 932.8,789.6C936.3,787.5 938.2,782.7 942.0,780.2C945.8,777.7 947.3,776.9 951.1,777.4C954.9,777.9 956.2,780.4 960.3,782.6C964.4,784.8 966.3,785.8 971.0,788.1C975.7,790.4 978.5,793.3 983.2,793.9C987.9,794.5 989.8,791.4 993.9,791.1C998.0,790.8 999.0,791.6 1003.1,792.4C1007.2,793.2 1009.1,795.1 1013.8,795.1C1018.5,795.1 1021.3,793.4 1026.0,792.6C1030.7,791.8 1032.3,790.4 1036.7,791.4C1041.1,792.4 1042.6,797.1 1047.4,797.2C1052.2,797.3 1054.9,793.9 1059.7,792.0C1064.5,790.1 1066.0,789.0 1070.4,788.0C1074.8,787.0 1076.7,786.1 1081.1,787.4C1085.5,788.7 1087.1,792.1 1091.8,794.5C1096.5,796.9 1099.2,797.1 1104.0,798.8C1108.8,800.5 1109.7,800.6 1114.8,802.7C1119.9,804.8 1123.5,807.0 1128.5,808.9C1133.5,810.8 1132.9,810.7 1139.2,811.7C1145.5,812.7 1159.1,813.5 1159.1,813.5M1177.5,813.5C1177.5,813.5 1183.4,811.5 1189.7,810.8C1196.0,810.1 1200.8,809.6 1208.1,810.2C1215.4,810.8 1224.9,813.5 1224.9,813.5C1224.9,813.5 1231.4,810.8 1238.7,810.2C1246.0,809.6 1252.5,810.7 1260.1,810.8C1267.7,810.9 1267.8,811.0 1275.4,810.8C1283.0,810.6 1288.0,809.7 1296.9,809.6C1305.8,809.5 1309.8,809.4 1318.3,810.2C1326.8,811.0 1338.2,813.5 1338.2,813.5L1338.2,812.9L258.0,812.9Z" fill="#70c8dd" stroke="none"/>
<path d="M258.0,813.5C258.0,813.5 261.2,811.8 264.0,810.5C266.8,809.2 267.5,808.3 271.6,807.2C275.7,806.1 279.1,805.3 283.8,805.1C288.5,804.9 289.8,805.2 294.5,806.3C299.2,807.4 301.3,810.2 306.7,810.3C312.1,810.4 314.5,808.2 320.5,806.6C326.5,805.0 329.7,803.1 335.7,802.6C341.7,802.1 343.2,804.3 349.5,804.2C355.8,804.1 359.7,801.9 366.3,802.0C372.9,802.1 375.2,803.0 381.5,804.8C387.8,806.6 390.5,810.1 396.8,810.6C403.1,811.1 406.4,809.3 412.1,807.2C417.8,805.1 417.4,801.7 424.3,800.5C431.2,799.3 438.0,801.7 445.6,801.4C453.2,801.1 455.2,800.4 460.9,799.0C466.6,797.6 468.7,795.4 473.1,794.4C477.5,793.4 477.2,795.4 482.3,794.1C487.4,792.8 491.9,789.3 497.6,788.3C503.3,787.3 504.4,789.6 509.8,789.5C515.2,789.4 519.4,787.8 523.5,788.0C527.6,788.2 525.2,790.3 529.6,790.4C534.0,790.5 540.2,788.4 544.9,788.3C549.6,788.2 547.5,790.9 552.5,789.8C557.5,788.7 563.0,784.7 569.3,782.8C575.6,780.9 577.1,780.3 583.1,780.7C589.1,781.1 593.3,785.3 598.3,784.9C603.3,784.5 604.0,781.5 607.5,778.8C611.0,776.1 611.8,774.6 615.0,772.0C618.2,769.4 618.1,768.2 622.9,766.4C627.7,764.6 633.5,762.9 638.2,763.4C642.9,763.9 642.5,767.0 645.8,768.9C649.1,770.8 650.3,774.7 654.4,772.5C658.5,770.3 661.1,763.2 665.6,758.2C670.1,753.2 672.2,751.4 676.3,748.1C680.4,744.8 682.3,743.1 685.5,742.3C688.7,741.5 688.4,742.4 691.6,744.4C694.8,746.4 696.4,749.4 700.8,752.1C705.2,754.8 708.0,755.1 713.0,757.3C718.0,759.5 720.8,760.3 725.2,762.7C729.6,765.1 731.2,766.6 734.4,768.9C737.6,771.2 737.4,772.7 740.5,774.0C743.6,775.3 745.8,775.9 749.6,775.0C753.4,774.1 754.7,772.0 758.8,769.5C762.9,767.0 765.1,765.2 769.5,762.7C773.9,760.2 776.1,758.2 780.2,757.3C784.3,756.4 785.5,756.8 789.3,758.2C793.1,759.6 794.4,762.1 798.5,764.3C802.6,766.5 804.8,767.5 809.2,768.9C813.6,770.3 815.4,771.3 819.8,771.0C824.2,770.7 826.1,769.0 830.5,767.3C834.9,765.6 837.1,763.0 841.2,762.7C845.3,762.4 846.0,764.0 850.4,765.8C854.8,767.6 858.5,769.1 862.6,771.3C866.7,773.5 867.4,773.9 870.2,776.5C873.0,779.1 873.4,781.8 876.3,784.1C879.2,786.4 880.5,787.3 884.0,787.8C887.5,788.3 888.1,786.9 893.1,786.3C898.1,785.7 903.3,784.9 908.4,785.0C913.5,785.1 914.1,785.5 917.6,786.6C921.1,787.7 922.1,789.6 925.2,790.2C928.3,790.8 929.3,791.7 932.8,789.6C936.3,787.5 938.2,782.7 942.0,780.2C945.8,777.7 947.3,776.9 951.1,777.4C954.9,777.9 956.2,780.4 960.3,782.6C964.4,784.8 966.3,785.8 971.0,788.1C975.7,790.4 978.5,793.3 983.2,793.9C987.9,794.5 989.8,791.4 993.9,791.1C998.0,790.8 999.0,791.6 1003.1,792.4C1007.2,793.2 1009.1,795.1 1013.8,795.1C1018.5,795.1 1021.3,793.4 1026.0,792.6C1030.7,791.8 1032.3,790.4 1036.7,791.4C1041.1,792.4 1042.6,797.1 1047.4,797.2C1052.2,797.3 1054.9,793.9 1059.7,792.0C1064.5,790.1 1066.0,789.0 1070.4,788.0C1074.8,787.0 1076.7,786.1 1081.1,787.4C1085.5,788.7 1087.1,792.1 1091.8,794.5C1096.5,796.9 1099.2,797.1 1104.0,798.8C1108.8,800.5 1109.7,800.6 1114.8,802.7C1119.9,804.8 1123.5,807.0 1128.5,808.9C1133.5,810.8 1132.9,810.7 1139.2,811.7C1145.5,812.7 1159.1,813.5 1159.1,813.5M1177.5,813.5C1177.5,813.5 1183.4,811.5 1189.7,810.8C1196.0,810.1 1200.8,809.6 1208.1,810.2C1215.4,810.8 1224.9,813.5 1224.9,813.5C1224.9,813.5 1231.4,810.8 1238.7,810.2C1246.0,809.6 1252.5,810.7 1260.1,810.8C1267.7,810.9 1267.8,811.0 1275.4,810.8C1283.0,810.6 1288.0,809.7 1296.9,809.6C1305.8,809.5 1309.8,809.4 1318.3,810.2C1326.8,811.0 1338.2,813.5 1338.2,813.5" fill="none" stroke="#0000ff" stroke-width="2.7" stroke-linejoin="round" stroke-linecap="round"/>
</g>
<path d="M283.9,62.6H1314.5" stroke="#000" stroke-width="2.1" fill="none" stroke-linecap="square"/>
<path d="M283.9,62.6v7.0M490.0,62.6v7.0M696.1,62.6v7.0M902.3,62.6v7.0M1108.4,62.6v7.0M1314.5,62.6v7.0" stroke="#000" stroke-width="2.1" fill="none"/>
<path d="M340.0,167.8H1327.5" stroke="#000" stroke-width="2.1" fill="none" stroke-linecap="square"/>
<path d="M340.0,167.8v7.0M449.7,167.8v7.0M559.4,167.8v7.0M669.2,167.8v7.0M778.9,167.8v7.0M888.6,167.8v7.0M998.3,167.8v7.0M1108.0,167.8v7.0M1217.8,167.8v7.0M1327.5,167.8v7.0" stroke="#000" stroke-width="2.1" fill="none"/>
<path d="M812.0,285.5H1232.0" stroke="#000" stroke-width="2.1" fill="none" stroke-linecap="square"/>
<path d="M812.0,285.5v7.0M909.7,285.5v7.0M1007.4,285.5v7.0M1105.1,285.5v7.0M1202.8,285.5v7.0" stroke="#000" stroke-width="2.1" fill="none"/>
<path d="M713.5,402.5H1281.0" stroke="#000" stroke-width="2.1" fill="none" stroke-linecap="square"/>
<path d="M713.5,402.5v7.0M822.0,402.5v7.0M930.6,402.5v7.0M1039.2,402.5v7.0M1147.7,402.5v7.0M1256.2,402.5v7.0" stroke="#000" stroke-width="2.1" fill="none"/>
<path d="M235.3,637.0H1379.1" stroke="#000" stroke-width="2.1" fill="none" stroke-linecap="square"/>
<path d="M235.3,637.0v7.0M317.0,637.0v7.0M398.7,637.0v7.0M480.4,637.0v7.0M562.1,637.0v7.0M643.8,637.0v7.0M725.5,637.0v7.0M807.2,637.0v7.0M888.9,637.0v7.0M970.6,637.0v7.0M1052.3,637.0v7.0M1134.0,637.0v7.0M1215.7,637.0v7.0M1297.4,637.0v7.0M1379.1,637.0v7.0" stroke="#000" stroke-width="2.1" fill="none"/>
<path d="M192.6,812.9H1405.1" stroke="#000" stroke-width="2.1" fill="none" stroke-linecap="square"/>
<path d="M192.6,812.9v7.0M313.9,812.9v7.0M435.1,812.9v7.0M556.4,812.9v7.0M677.6,812.9v7.0M798.9,812.9v7.0M920.1,812.9v7.0M1041.3,812.9v7.0M1162.6,812.9v7.0M1283.8,812.9v7.0M1405.1,812.9v7.0" stroke="#000" stroke-width="2.1" fill="none"/>
<path d="M395.4,906.5H1315.2" stroke="#000" stroke-width="2.1" fill="none" stroke-linecap="square"/>
<path d="M395.4,906.5v7.0M513.9,906.5v7.0M612.3,906.5v7.0M716.3,906.5v7.0M852.0,906.5v7.0M996.2,906.5v7.0M1111.1,906.5v7.0M1206.4,906.5v7.0M1315.2,906.5v7.0" stroke="#000" stroke-width="2.1" fill="none"/>
<text transform="translate(283.90,89.50) scale(1.0550,1)" text-anchor="middle" font-size="35.60" font-style="normal" font-weight="normal" fill="#000" stroke="#000" stroke-width="0.5">0</text>
<text transform="translate(490.02,89.50) scale(1.0550,1)" text-anchor="middle" font-size="35.60" font-style="normal" font-weight="normal" fill="#000" stroke="#000" stroke-width="0.5">20</text>
<text transform="translate(696.14,89.50) scale(1.0550,1)" text-anchor="middle" font-size="35.60" font-style="normal" font-weight="normal" fill="#000" stroke="#000" stroke-width="0.5">40</text>
<text transform="translate(902.26,89.50) scale(1.0550,1)" text-anchor="middle" font-size="35.60" font-style="normal" font-weight="normal" fill="#000" stroke="#000" stroke-width="0.5">60</text>
<text transform="translate(1108.38,89.50) scale(1.0550,1)" text-anchor="middle" font-size="35.60" font-style="normal" font-weight="normal" fill="#000" stroke="#000" stroke-width="0.5">80</text>
<text transform="translate(1314.50,89.50) scale(1.0550,1)" text-anchor="middle" font-size="35.60" font-style="normal" font-weight="normal" fill="#000" stroke="#000" stroke-width="0.5">100</text>
<text transform="translate(340.00,193.80) scale(1.0650,1)" text-anchor="middle" font-size="32.30" font-style="normal" font-weight="normal" fill="#000" stroke="#000" stroke-width="0.5">65</text>
<text transform="translate(449.72,193.80) scale(1.0650,1)" text-anchor="middle" font-size="32.30" font-style="normal" font-weight="normal" fill="#000" stroke="#000" stroke-width="0.5">60</text>
<text transform="translate(559.44,193.80) scale(1.0650,1)" text-anchor="middle" font-size="32.30" font-style="normal" font-weight="normal" fill="#000" stroke="#000" stroke-width="0.5">55</text>
<text transform="translate(669.16,193.80) scale(1.0650,1)" text-anchor="middle" font-size="32.30" font-style="normal" font-weight="normal" fill="#000" stroke="#000" stroke-width="0.5">50</text>
<text transform="translate(778.88,193.80) scale(1.0650,1)" text-anchor="middle" font-size="32.30" font-style="normal" font-weight="normal" fill="#000" stroke="#000" stroke-width="0.5">45</text>
<text transform="translate(888.60,193.80) scale(1.0650,1)" text-anchor="middle" font-size="32.30" font-style="normal" font-weight="normal" fill="#000" stroke="#000" stroke-width="0.5">40</text>
<text transform="translate(998.32,193.80) scale(1.0650,1)" text-anchor="middle" font-size="32.30" font-style="normal" font-weight="normal" fill="#000" stroke="#000" stroke-width="0.5">35</text>
<text transform="translate(1108.04,193.80) scale(1.0650,1)" text-anchor="middle" font-size="32.30" font-style="normal" font-weight="normal" fill="#000" stroke="#000" stroke-width="0.5">30</text>
<text transform="translate(1217.76,193.80) scale(1.0650,1)" text-anchor="middle" font-size="32.30" font-style="normal" font-weight="normal" fill="#000" stroke="#000" stroke-width="0.5">25</text>
<text transform="translate(1327.48,193.80) scale(1.0650,1)" text-anchor="middle" font-size="32.30" font-style="normal" font-weight="normal" fill="#000" stroke="#000" stroke-width="0.5">20</text>
<text transform="translate(812.00,311.10) scale(1.0600,1)" text-anchor="middle" font-size="32.20" font-style="normal" font-weight="normal" fill="#000" stroke="#000" stroke-width="0.5">0</text>
<text transform="translate(909.70,311.10) scale(1.0600,1)" text-anchor="middle" font-size="32.20" font-style="normal" font-weight="normal" fill="#000" stroke="#000" stroke-width="0.5">100</text>
<text transform="translate(1007.40,311.10) scale(1.0600,1)" text-anchor="middle" font-size="32.20" font-style="normal" font-weight="normal" fill="#000" stroke="#000" stroke-width="0.5">200</text>
<text transform="translate(1105.10,311.10) scale(1.0600,1)" text-anchor="middle" font-size="32.20" font-style="normal" font-weight="normal" fill="#000" stroke="#000" stroke-width="0.5">300</text>
<text transform="translate(1202.80,311.10) scale(1.0600,1)" text-anchor="middle" font-size="32.20" font-style="normal" font-weight="normal" fill="#000" stroke="#000" stroke-width="0.5">400</text>
<text transform="translate(713.50,428.20) scale(1.0600,1)" text-anchor="middle" font-size="32.20" font-style="normal" font-weight="normal" fill="#000" stroke="#000" stroke-width="0.5">0</text>
<text transform="translate(822.05,428.20) scale(1.0600,1)" text-anchor="middle" font-size="32.20" font-style="normal" font-weight="normal" fill="#000" stroke="#000" stroke-width="0.5">40</text>
<text transform="translate(930.60,428.20) scale(1.0600,1)" text-anchor="middle" font-size="32.20" font-style="normal" font-weight="normal" fill="#000" stroke="#000" stroke-width="0.5">80</text>
<text transform="translate(1039.15,428.20) scale(1.0600,1)" text-anchor="middle" font-size="32.20" font-style="normal" font-weight="normal" fill="#000" stroke="#000" stroke-width="0.5">120</text>
<text transform="translate(1147.70,428.20) scale(1.0600,1)" text-anchor="middle" font-size="32.20" font-style="normal" font-weight="normal" fill="#000" stroke="#000" stroke-width="0.5">160</text>
<text transform="translate(1256.25,428.20) scale(1.0600,1)" text-anchor="middle" font-size="32.20" font-style="normal" font-weight="normal" fill="#000" stroke="#000" stroke-width="0.5">200</text>
<text transform="translate(235.30,662.50) scale(1.0600,1)" text-anchor="middle" font-size="32.20" font-style="normal" font-weight="normal" fill="#000" stroke="#000" stroke-width="0.5">15</text>
<text transform="translate(317.00,662.50) scale(1.0600,1)" text-anchor="middle" font-size="32.20" font-style="normal" font-weight="normal" fill="#000" stroke="#000" stroke-width="0.5">20</text>
<text transform="translate(398.70,662.50) scale(1.0600,1)" text-anchor="middle" font-size="32.20" font-style="normal" font-weight="normal" fill="#000" stroke="#000" stroke-width="0.5">25</text>
<text transform="translate(480.40,662.50) scale(1.0600,1)" text-anchor="middle" font-size="32.20" font-style="normal" font-weight="normal" fill="#000" stroke="#000" stroke-width="0.5">30</text>
<text transform="translate(562.10,662.50) scale(1.0600,1)" text-anchor="middle" font-size="32.20" font-style="normal" font-weight="normal" fill="#000" stroke="#000" stroke-width="0.5">35</text>
<text transform="translate(643.80,662.50) scale(1.0600,1)" text-anchor="middle" font-size="32.20" font-style="normal" font-weight="normal" fill="#000" stroke="#000" stroke-width="0.5">40</text>
<text transform="translate(725.50,662.50) scale(1.0600,1)" text-anchor="middle" font-size="32.20" font-style="normal" font-weight="normal" fill="#000" stroke="#000" stroke-width="0.5">45</text>
<text transform="translate(807.20,662.50) scale(1.0600,1)" text-anchor="middle" font-size="32.20" font-style="normal" font-weight="normal" fill="#000" stroke="#000" stroke-width="0.5">50</text>
<text transform="translate(888.90,662.50) scale(1.0600,1)" text-anchor="middle" font-size="32.20" font-style="normal" font-weight="normal" fill="#000" stroke="#000" stroke-width="0.5">55</text>
<text transform="translate(970.60,662.50) scale(1.0600,1)" text-anchor="middle" font-size="32.20" font-style="normal" font-weight="normal" fill="#000" stroke="#000" stroke-width="0.5">60</text>
<text transform="translate(1052.30,662.50) scale(1.0600,1)" text-anchor="middle" font-size="32.20" font-style="normal" font-weight="normal" fill="#000" stroke="#000" stroke-width="0.5">65</text>
<text transform="translate(1134.00,662.50) scale(1.0600,1)" text-anchor="middle" font-size="32.20" font-style="normal" font-weight="normal" fill="#000" stroke="#000" stroke-width="0.5">70</text>
<text transform="translate(1215.70,662.50) scale(1.0600,1)" text-anchor="middle" font-size="32.20" font-style="normal" font-weight="normal" fill="#000" stroke="#000" stroke-width="0.5">75</text>
<text transform="translate(1297.40,662.50) scale(1.0600,1)" text-anchor="middle" font-size="32.20" font-style="normal" font-weight="normal" fill="#000" stroke="#000" stroke-width="0.5">80</text>
<text transform="translate(1379.10,662.50) scale(1.0600,1)" text-anchor="middle" font-size="32.20" font-style="normal" font-weight="normal" fill="#000" stroke="#000" stroke-width="0.5">85</text>
<text transform="translate(192.60,840.10) scale(1.0600,1)" text-anchor="middle" font-size="35.60" font-style="normal" font-weight="normal" fill="#000" stroke="#000" stroke-width="0.5">200</text>
<text transform="translate(313.85,840.10) scale(1.0600,1)" text-anchor="middle" font-size="35.60" font-style="normal" font-weight="normal" fill="#000" stroke="#000" stroke-width="0.5">220</text>
<text transform="translate(435.10,840.10) scale(1.0600,1)" text-anchor="middle" font-size="35.60" font-style="normal" font-weight="normal" fill="#000" stroke="#000" stroke-width="0.5">240</text>
<text transform="translate(556.35,840.10) scale(1.0600,1)" text-anchor="middle" font-size="35.60" font-style="normal" font-weight="normal" fill="#000" stroke="#000" stroke-width="0.5">260</text>
<text transform="translate(677.60,840.10) scale(1.0600,1)" text-anchor="middle" font-size="35.60" font-style="normal" font-weight="normal" fill="#000" stroke="#000" stroke-width="0.5">280</text>
<text transform="translate(798.85,840.10) scale(1.0600,1)" text-anchor="middle" font-size="35.60" font-style="normal" font-weight="normal" fill="#000" stroke="#000" stroke-width="0.5">300</text>
<text transform="translate(920.10,840.10) scale(1.0600,1)" text-anchor="middle" font-size="35.60" font-style="normal" font-weight="normal" fill="#000" stroke="#000" stroke-width="0.5">320</text>
<text transform="translate(1041.35,840.10) scale(1.0600,1)" text-anchor="middle" font-size="35.60" font-style="normal" font-weight="normal" fill="#000" stroke="#000" stroke-width="0.5">340</text>
<text transform="translate(1162.60,840.10) scale(1.0600,1)" text-anchor="middle" font-size="35.60" font-style="normal" font-weight="normal" fill="#000" stroke="#000" stroke-width="0.5">360</text>
<text transform="translate(1283.85,840.10) scale(1.0600,1)" text-anchor="middle" font-size="35.60" font-style="normal" font-weight="normal" fill="#000" stroke="#000" stroke-width="0.5">380</text>
<text transform="translate(1405.10,840.10) scale(1.0600,1)" text-anchor="middle" font-size="35.60" font-style="normal" font-weight="normal" fill="#000" stroke="#000" stroke-width="0.5">400</text>
<text transform="translate(395.40,933.40) scale(1.0500,1)" text-anchor="middle" font-size="35.60" font-style="normal" font-weight="normal" fill="#000" stroke="#000" stroke-width="0.5">0.002</text>
<text transform="translate(513.89,933.40) scale(1.0500,1)" text-anchor="middle" font-size="35.60" font-style="normal" font-weight="normal" fill="#000" stroke="#000" stroke-width="0.5">0.008</text>
<text transform="translate(612.34,933.40) scale(1.0500,1)" text-anchor="middle" font-size="35.60" font-style="normal" font-weight="normal" fill="#000" stroke="#000" stroke-width="0.5">0.025</text>
<text transform="translate(716.27,933.40) scale(1.0500,1)" text-anchor="middle" font-size="35.60" font-style="normal" font-weight="normal" fill="#000" stroke="#000" stroke-width="0.5">0.08</text>
<text transform="translate(852.02,933.40) scale(1.0500,1)" text-anchor="middle" font-size="35.60" font-style="normal" font-weight="normal" fill="#000" stroke="#000" stroke-width="0.5">0.3</text>
<text transform="translate(996.24,933.40) scale(1.0500,1)" text-anchor="middle" font-size="35.60" font-style="normal" font-weight="normal" fill="#000" stroke="#000" stroke-width="0.5">0.7</text>
<text transform="translate(1111.13,933.40) scale(1.0500,1)" text-anchor="middle" font-size="35.60" font-style="normal" font-weight="normal" fill="#000" stroke="#000" stroke-width="0.5">0.9</text>
<text transform="translate(1206.41,933.40) scale(1.0500,1)" text-anchor="middle" font-size="35.60" font-style="normal" font-weight="normal" fill="#000" stroke="#000" stroke-width="0.5">0.965</text>
<text transform="translate(1315.20,933.40) scale(1.0500,1)" text-anchor="middle" font-size="35.60" font-style="normal" font-weight="normal" fill="#000" stroke="#000" stroke-width="0.5">0.99</text>
<path d="M933.4,519.6H1160" stroke="#b4b4b4" stroke-width="1.8"/>
<rect x="831" y="484.6" width="101.1" height="69.4" fill="#b0e9e1" stroke="#0000ff" stroke-width="2.7"/>
<rect x="1160.6" y="511.3" width="25.0" height="17.0" fill="#b0e9e1" stroke="#0000ff" stroke-width="2.5"/>
<circle cx="1173.2" cy="519.9" r="3.1" fill="#fff" stroke="#000" stroke-width="2"/>
<text transform="translate(859.85,483.70) scale(1.0500,1)" font-size="32.74" font-style="normal" font-weight="normal" fill="#000" stroke="#000" stroke-width="0.5">No</text>
<text transform="translate(1146.58,551.30) scale(1.0500,1)" font-size="31.18" font-style="normal" font-weight="normal" fill="#000" stroke="#000" stroke-width="0.5">Yes</text>
<ellipse cx="877.8" cy="62.9" rx="10.4" ry="9.9" fill="#ff0000"/>
<ellipse cx="881.8" cy="62.9" rx="10.4" ry="9.9" fill="#ff0000"/>
<ellipse cx="971.5" cy="62.9" rx="10.4" ry="9.9" fill="#ff0000"/>
<ellipse cx="1015.5" cy="62.9" rx="10.4" ry="9.9" fill="#ff0000"/>
<ellipse cx="1314" cy="62.9" rx="10.4" ry="9.9" fill="#ff0000"/>
<ellipse cx="1015.5" cy="167.5" rx="10.4" ry="9.9" fill="#ff0000"/>
<ellipse cx="877.8" cy="285.9" rx="10.4" ry="9.9" fill="#ff0000"/>
<ellipse cx="971.5" cy="402.8" rx="10.4" ry="9.9" fill="#ff0000"/>
<ellipse cx="881.8" cy="519.4" rx="10.4" ry="9.9" fill="#ff0000"/>
<ellipse cx="1314.1" cy="637.0" rx="10.4" ry="9.9" fill="#ff0000"/>
<text transform="translate(1092.86,810.50) scale(1.0907,1)" font-size="34.60" font-style="italic" font-weight="normal" fill="#ff0000" stroke="#ff0000" stroke-width="0.5">353</text>
<text transform="translate(1006.90,900.70) scale(1.0500,1)" font-size="35.91" font-style="italic" font-weight="normal" fill="#ff0000" stroke="#ff0000" stroke-width="0.5">0.912</text>
<path d="M1122.5,812V884" stroke="#ff0000" stroke-width="3.5"/>
<path d="M1106.3,812.7L1122.5,798.2L1138.8,812.7L1122.5,827.2Z" fill="#ff0000"/>
<path d="M1105.8,883.1H1139.3L1122.7,908.6Z" fill="#ff0000" stroke="#ff0000" stroke-width="1" stroke-linejoin="round"/>
<path d="M1042.7,906.3H1202.8M1042.7,895.6V917.8M1202.8,895.6V917.8" stroke="#ff0000" stroke-width="4.2" fill="none" stroke-linecap="round"/>
<text transform="translate(580.34,36.30) scale(1.0797,1)" font-size="40.60" font-style="italic" font-weight="bold" fill="#000" stroke="#000" stroke-width="0.9">individual nomogram</text>
<text transform="translate(7.81,66.30) scale(1.0500,1)" font-size="34.75" font-style="italic" font-weight="normal" fill="#000" stroke="#000" stroke-width="0.5">Points</text>
<text transform="translate(5.79,148.80) scale(1.0500,1)" font-size="38.27" font-style="normal" font-weight="normal" fill="#000" stroke="#000" stroke-width="0.5">PNI***</text>
<text transform="translate(4.96,266.40) scale(1.0500,1)" font-size="38.86" font-style="normal" font-weight="normal" fill="#000" stroke="#000" stroke-width="0.5">Creatinine</text>
<text transform="translate(5.38,382.70) scale(1.0500,1)" font-size="38.49" font-style="normal" font-weight="normal" fill="#000" stroke="#000" stroke-width="0.5">Serum.ammonia***</text>
<text transform="translate(3.95,499.70) scale(1.0500,1)" font-size="38.71" font-style="normal" font-weight="normal" fill="#000" stroke="#000" stroke-width="0.5">Previous.history.of.HE**</text>
<text transform="translate(7.20,616.60) scale(1.0500,1)" font-size="37.74" font-style="normal" font-weight="normal" fill="#000" stroke="#000" stroke-width="0.5">Age***</text>
<text transform="translate(9.29,722.70) scale(1.0850,1)" font-size="36.97" font-style="italic" font-weight="bold" fill="#000" stroke="#000" stroke-width="0.9">Total points</text>
<text transform="translate(224.38,916.00) scale(1.0500,1)" font-size="35.55" font-style="italic" font-weight="normal" fill="#000" stroke="#000" stroke-width="0.5">Pr( OHE )</text>
</svg>
</body></html>
